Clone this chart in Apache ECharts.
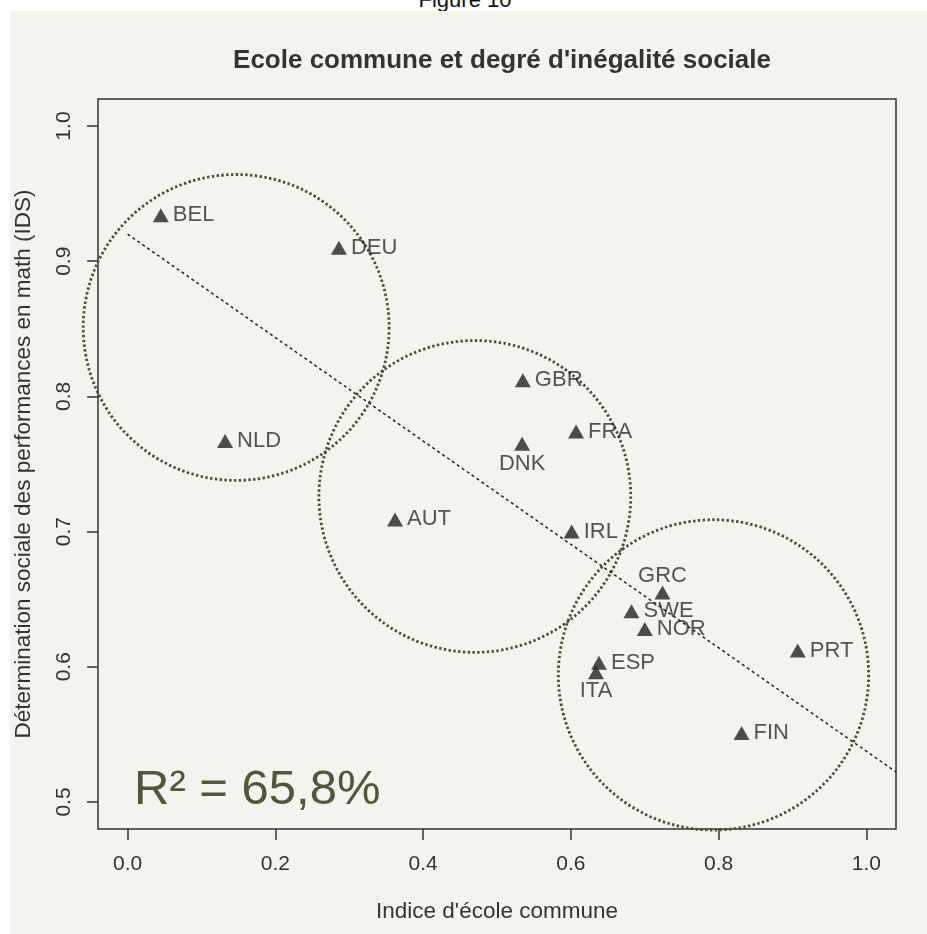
<!DOCTYPE html>
<html>
<head>
<meta charset="utf-8">
<script src="https://cdn.jsdelivr.net/npm/echarts@6/dist/echarts.min.js"></script>
<style>
  html, body { margin: 0; padding: 0; background: #ffffff; overflow: hidden; }
  #fig { position: absolute; left: 0; width: 930px; top: -13px; text-align: center;
         font-family: "Liberation Sans", Arial, sans-serif; font-size: 22px; color: #111; z-index: 1; }
  #bg { position: absolute; left: 10px; top: 11px; width: 917px; height: 923px; background: #f4f4ef; z-index: 2; }
  #chart { position: absolute; left: 0; top: 0; width: 927px; height: 934px; z-index: 3; }
</style>
</head>
<body>
<div id="fig">Figure 10</div>
<div id="bg"></div>
<div id="chart"></div>
<script>
// ---- data ----
const countries = ['BEL','DEU','NLD','GBR','FRA','DNK','AUT','IRL','GRC','SWE','NOR','ESP','ITA','PRT','FIN'];
const ecoleCommune = [0.045,0.286,0.132,0.535,0.607,0.534,0.362,0.601,0.724,0.682,0.700,0.638,0.634,0.907,0.831];
const ids = [0.934,0.910,0.767,0.812,0.774,0.765,0.709,0.700,0.655,0.641,0.628,0.603,0.596,0.612,0.551];
const circleCx = [0.147,0.470,0.793];
const circleCy = [0.851,0.726,0.594];
const circleR = [0.207,0.211,0.210]; // radius in x-axis units
const xTicks = [0.0,0.2,0.4,0.6,0.8,1.0];
const yTicks = [0.5,0.6,0.7,0.8,0.9,1.0];
const r2Text = 'R\u00B2 = 65,8%';

// ---- layout helpers (not data) ----
const labelBelow = {DNK: 2, ITA: 1};
const labelAbove = {GRC: -2};

// least-squares fit computed from the data
const n = ecoleCommune.length;
const mx = ecoleCommune.reduce((a,b)=>a+b,0)/n;
const my = ids.reduce((a,b)=>a+b,0)/n;
let sxy = 0, sxx = 0;
for (let i = 0; i < n; i++) { sxy += (ecoleCommune[i]-mx)*(ids[i]-my); sxx += (ecoleCommune[i]-mx)**2; }
const slope = sxy/sxx, intercept = my - slope*mx;
const xMin = -0.04, xMax = 1.04;
const fitLine = [[0, intercept], [xMax, intercept + slope*xMax]];

const FONT = '"Liberation Sans", Arial, sans-serif';
const chart = echarts.init(document.getElementById('chart'), null, {renderer: 'canvas'});

const points = countries.map((c, i) => {
  let pos = 'right', dist = 4;
  if (c in labelBelow) { pos = 'bottom'; dist = labelBelow[c]; }
  if (c in labelAbove) { pos = 'top'; dist = labelAbove[c]; }
  return { value: [ecoleCommune[i], ids[i]], name: c,
           label: { position: pos, distance: dist } };
});

chart.setOption({
  backgroundColor: 'transparent',
  animation: false,
  title: {
    text: "Ecole commune et degré d'inégalité sociale",
    left: 497, textAlign: 'center', top: 43,
    textStyle: { fontFamily: FONT, fontSize: 26, fontWeight: 'bold', color: '#333' }
  },
  grid: { left: 98, right: 31, top: 99, bottom: 105, show: true, borderColor: '#333', borderWidth: 1.5, backgroundColor: 'transparent' },
  xAxis: {
    type: 'value', min: xMin, max: xMax,
    name: "Indice d'école commune", nameLocation: 'middle', nameGap: 71,
    nameTextStyle: { fontFamily: FONT, fontSize: 22.5, color: '#333' },
    axisLine: { show: false, onZero: false },
    axisTick: { show: true, length: 11, customValues: xTicks, lineStyle: { color: '#333', width: 1.5 } },
    axisLabel: { customValues: xTicks, margin: 25, fontFamily: FONT, fontSize: 21, color: '#333',
                 formatter: v => v.toFixed(1) },
    splitLine: { show: false }
  },
  yAxis: {
    type: 'value', min: 0.48, max: 1.02,
    name: 'Détermination sociale des performances en math (IDS)', nameLocation: 'middle', nameGap: 63,
    nameTextStyle: { fontFamily: FONT, fontSize: 22.5, color: '#333' },
    axisLine: { show: false, onZero: false },
    axisTick: { show: true, length: 11, customValues: yTicks, lineStyle: { color: '#333', width: 1.5 } },
    axisLabel: { customValues: yTicks, rotate: 90, margin: 23, fontFamily: FONT, fontSize: 21, color: '#333',
                 formatter: v => v.toFixed(1) },
    splitLine: { show: false }
  },
  graphic: [{
    type: 'text', left: 134, top: 766, z: 10,
    style: { text: r2Text, font: '49px ' + FONT, fill: '#55553a' }
  }],
  series: [
    {
      type: 'custom', clip: false, z: 2,
      data: circleCx.map((x, i) => [x, circleCy[i], circleR[i]]),
      renderItem: (params, api) => {
        const c = api.coord([api.value(0), api.value(1)]);
        const r = api.size([api.value(2), 0])[0];
        return { type: 'circle', shape: { cx: c[0], cy: c[1], r: r },
                 style: { fill: 'none', stroke: '#4d4d38', lineWidth: 2.8, lineDash: [2.4, 2.4] } };
      }
    },
    {
      type: 'line', data: fitLine, symbol: 'none', z: 3, silent: true,
      lineStyle: { color: '#222', width: 1.5, type: [3, 3] }
    },
    {
      type: 'scatter', data: points, symbol: 'triangle', symbolSize: [16, 14], z: 5,
      itemStyle: { color: '#222' },
      label: { show: true, formatter: '{b}', fontFamily: FONT, fontSize: 22, color: '#2a2a2a' }
    }
  ]
});
</script>
</body>
</html>
